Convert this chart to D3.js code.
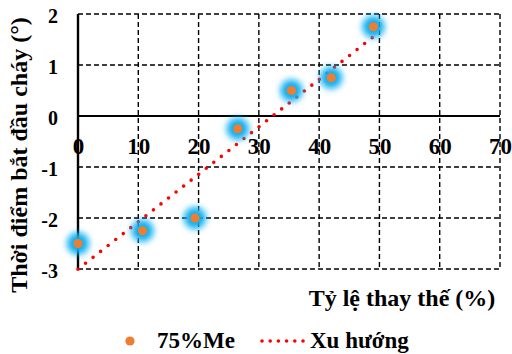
<!DOCTYPE html>
<html>
<head>
<meta charset="utf-8">
<script src="https://cdn.jsdelivr.net/npm/d3@7"></script>
<style>
  body { margin: 0; background: #fff; }
  svg text { font-family: "Liberation Serif", "Times New Roman", serif; font-weight: bold; fill: #000; }
</style>
</head>
<body>
<svg id="chart" width="512" height="354"></svg>
<script>
// data
const replaceRate = [0, 10.7, 19.4, 26.5, 35.4, 42, 49];
const ignitionDelay = [-2.5, -2.25, -2, -0.25, 0.5, 0.75, 1.75];
const xTicks = [0, 10, 20, 30, 40, 50, 60, 70];
const yTicks = [-3, -2, -1, 0, 1, 2];
const seriesName = "75%Me";
const trendName = "Xu hướng";
const xTitle = "Tỷ lệ thay thế (%)";
const yTitle = "Thời điểm bắt đầu cháy (°)";

const serif = '"Liberation Serif", "Times New Roman", serif';
const svg = d3.select("#chart");

const x = d3.scaleLinear().domain([0, 70]).range([78, 500]);
const y = d3.scaleLinear().domain([-3, 2]).range([269, 14]);

// glow filter for the points
const defs = svg.append("defs");
const glow = defs.append("filter")
    .attr("id", "glow")
    .attr("x", "-100%").attr("y", "-100%")
    .attr("width", "300%").attr("height", "300%");
glow.append("feGaussianBlur").attr("stdDeviation", 3);

// dashed grid
const grid = svg.append("g")
    .attr("stroke", "#000")
    .attr("stroke-width", 1.4)
    .attr("stroke-dasharray", "5,3");

grid.selectAll(".h")
    .data(yTicks.filter(d => d !== 0))
    .join("line")
    .attr("x1", x(0)).attr("x2", x(70))
    .attr("y1", d => y(d)).attr("y2", d => y(d));

grid.selectAll(".v")
    .data(xTicks.filter(d => d !== 0))
    .join("line")
    .attr("x1", d => x(d)).attr("x2", d => x(d))
    .attr("y1", y(2)).attr("y2", y(-3));

// solid zero axes
svg.append("line")
    .attr("x1", x(0)).attr("x2", x(70))
    .attr("y1", y(0)).attr("y2", y(0))
    .attr("stroke", "#000").attr("stroke-width", 2);
svg.append("line")
    .attr("x1", x(0)).attr("x2", x(0))
    .attr("y1", y(2)).attr("y2", y(-3))
    .attr("stroke", "#000").attr("stroke-width", 2.4);

// tick labels
const xAxis = svg.append("g")
    .attr("transform", `translate(0,${y(0)})`)
    .call(d3.axisBottom(x).tickValues(xTicks).tickSize(0));
xAxis.selectAll("text")
    .attr("dy", null)
    .attr("y", 37.5)
    .style("font-size", "23px");

const yAxis = svg.append("g")
    .attr("transform", `translate(${x(0)},0)`)
    .call(d3.axisLeft(y).tickValues(yTicks).tickSize(0).tickPadding(20)
        .tickFormat(d => d < 0 ? "-" + Math.abs(d) : d));
yAxis.selectAll("text")
    .attr("dy", null)
    .attr("y", 8.3)
    .style("font-size", "20px");

[xAxis, yAxis].forEach(a => {
    a.select(".domain").remove();
    a.attr("font-family", serif).attr("font-weight", "bold");
});

// trend line from least squares fit
const mx = d3.mean(replaceRate), my = d3.mean(ignitionDelay);
const slope = d3.sum(replaceRate, (d, i) => (d - mx) * (ignitionDelay[i] - my)) /
              d3.sum(replaceRate, d => (d - mx) * (d - mx));
const intercept = my - slope * mx;
const trendX = d3.extent(replaceRate);

svg.append("path")
    .datum(trendX)
    .attr("d", d3.line().x(d => x(d)).y(d => y(intercept + slope * d)))
    .attr("fill", "none")
    .attr("stroke", "#ff0000")
    .attr("stroke-width", 3.6)
    .attr("stroke-linecap", "round")
    .attr("stroke-dasharray", "0,9.6");

// points with blue glow
const pts = replaceRate.map((d, i) => ({ x: d, y: ignitionDelay[i] }));
svg.append("g").selectAll("circle")
    .data(pts)
    .join("circle")
    .attr("cx", d => x(d.x)).attr("cy", d => y(d.y))
    .attr("r", 11)
    .attr("fill", "#0aaff0")
    .attr("filter", "url(#glow)");
svg.append("g").selectAll("circle")
    .data(pts)
    .join("circle")
    .attr("cx", d => x(d.x)).attr("cy", d => y(d.y))
    .attr("r", 4.6)
    .attr("fill", "#ed7d31");

// axis titles
svg.append("text")
    .attr("x", 402).attr("y", 306)
    .attr("text-anchor", "middle")
    .style("font-size", "24px")
    .text(xTitle);

svg.append("text")
    .attr("transform", "translate(27,155) rotate(-90)")
    .attr("text-anchor", "middle")
    .style("font-size", "24px")
    .text(yTitle);

// legend
const legend = svg.append("g");
legend.append("circle")
    .attr("cx", 130).attr("cy", 341).attr("r", 4.6)
    .attr("fill", "#ed7d31");
legend.append("text")
    .attr("x", 157).attr("y", 347.5)
    .style("font-size", "23px")
    .text(seriesName);
legend.append("line")
    .attr("x1", 262).attr("x2", 304)
    .attr("y1", 341).attr("y2", 341)
    .attr("stroke", "#ff0000")
    .attr("stroke-width", 3.6)
    .attr("stroke-linecap", "round")
    .attr("stroke-dasharray", "0,8.2");
legend.append("text")
    .attr("x", 310).attr("y", 347.5)
    .style("font-size", "23px")
    .text(trendName);
</script>
</body>
</html>
